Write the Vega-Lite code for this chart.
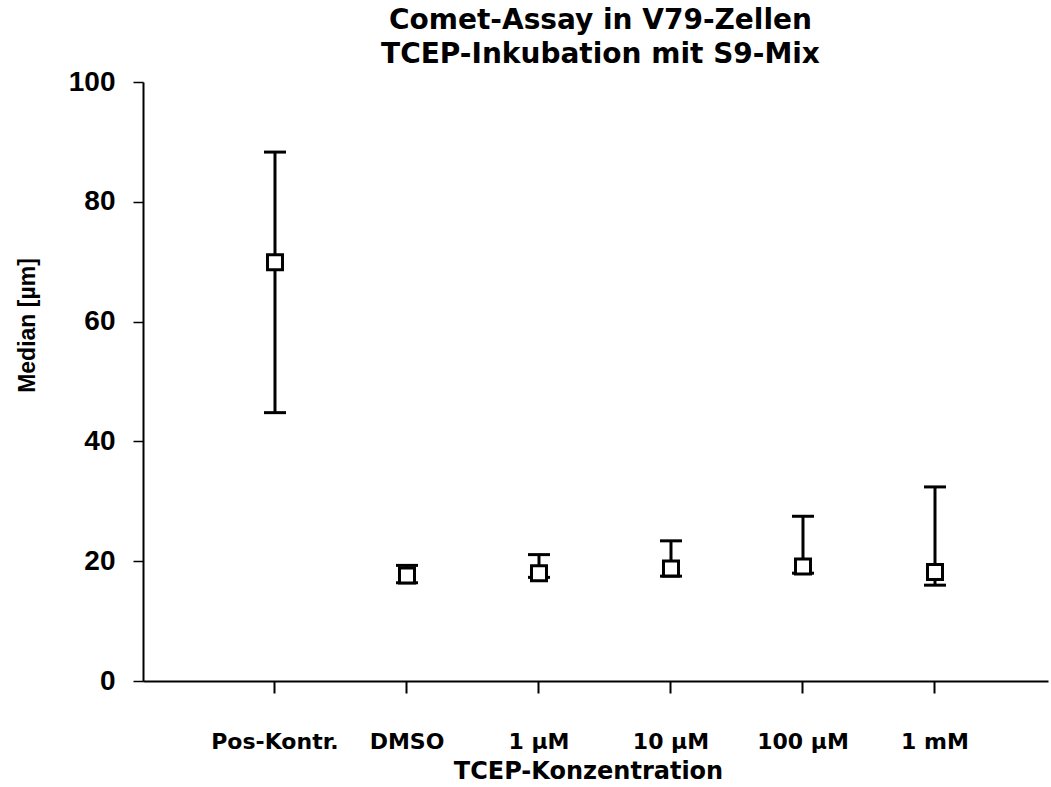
{
  "$schema": "https://vega.github.io/schema/vega-lite/v6.json",
  "autosize": "none",
  "width": 905,
  "height": 599,
  "padding": {"left": 143, "top": 82, "right": 3, "bottom": 106},
  "background": "white",
  "config": {
    "view": {"stroke": null},
    "font": "Liberation Sans"
  },
  "title": {
    "text": ["Comet-Assay in V79-Zellen", "TCEP-Inkubation mit S9-Mix"],
    "font": "DejaVu Sans",
    "fontSize": 28,
    "fontWeight": "bold",
    "color": "black",
    "anchor": "middle",
    "offset": -1,
    "lineHeight": 34,
    "dx": 5
  },
  "data": {
    "values": [
      {"group": "Pos-Kontr.", "median": 69.9, "lo": 44.8, "hi": 88.3},
      {"group": "DMSO", "median": 17.6, "lo": 16.4, "hi": 19.3},
      {"group": "1 µM", "median": 18.0, "lo": 17.3, "hi": 21.1},
      {"group": "10 µM", "median": 18.8, "lo": 17.5, "hi": 23.4},
      {"group": "100 µM", "median": 19.1, "lo": 18.0, "hi": 27.5},
      {"group": "1 mM", "median": 18.2, "lo": 16.0, "hi": 32.4}
    ]
  },
  "encoding": {
    "x": {
      "field": "group",
      "type": "nominal",
      "sort": null,
      "scale": {"type": "band", "paddingInner": 0, "paddingOuter": 0.428, "align": 0.584},
      "axis": {
        "title": "TCEP-Konzentration",
        "titleFont": "DejaVu Sans",
        "titleFontSize": 24,
        "titleFontWeight": "bold",
        "titleColor": "black",
        "titleBaseline": "alphabetic",
        "titleX": 445,
        "titleY": 97,
        "labelFont": "DejaVu Sans",
        "labelFontSize": 22,
        "labelFontWeight": "bold",
        "labelColor": "black",
        "labelAngle": 0,
        "labelPadding": 38,
        "bandPosition": 0.5,
        "domainColor": "black",
        "domainWidth": 2,
        "tickColor": "black",
        "tickWidth": 2,
        "tickSize": 12,
        "grid": false
      }
    }
  },
  "layer": [
    {
      "mark": {"type": "rule", "color": "black", "strokeWidth": 3},
      "encoding": {
        "y": {
          "field": "lo",
          "type": "quantitative",
          "scale": {"domain": [0, 100], "nice": false, "zero": true},
          "axis": {
            "title": "Median [µm]",
            "values": [0, 20, 40, 60, 80, 100],
            "titleFont": "Liberation Sans",
            "titleFontSize": 23,
            "titleFontWeight": "bold",
            "titleColor": "black",
            "titleX": -104,
            "titleY": 243,
            "titleAngle": -90,
            "labelFont": "Liberation Sans",
            "labelFontSize": 28,
            "labelFontWeight": "bold",
            "labelColor": "black",
            "labelPadding": 18,
            "domainColor": "black",
            "domainWidth": 2,
            "tickColor": "black",
            "tickWidth": 1.5,
            "tickSize": 10,
            "grid": false
          }
        },
        "y2": {"field": "hi"}
      }
    },
    {
      "mark": {"type": "tick", "color": "black", "size": 22, "thickness": 3, "opacity": 1},
      "encoding": {"y": {"field": "lo", "type": "quantitative"}}
    },
    {
      "mark": {"type": "tick", "color": "black", "size": 22, "thickness": 3, "opacity": 1},
      "encoding": {"y": {"field": "hi", "type": "quantitative"}}
    },
    {
      "mark": {"type": "point", "shape": "square", "size": 225, "filled": true, "fill": "white", "stroke": "black", "strokeWidth": 3, "opacity": 1},
      "encoding": {"y": {"field": "median", "type": "quantitative"}}
    }
  ]
}
